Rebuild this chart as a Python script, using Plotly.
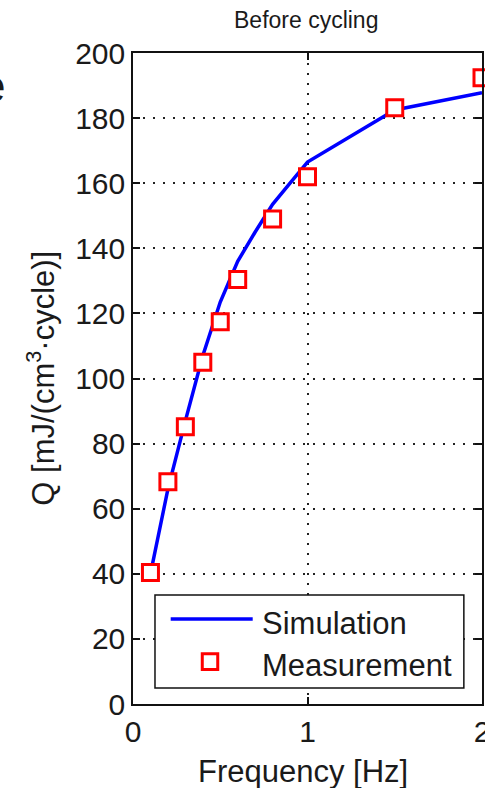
import plotly.graph_objects as go

# Measured heat per cycle vs. excitation frequency
meas_freq = [0.1, 0.2, 0.3, 0.4, 0.5, 0.6, 0.8, 1.0, 1.5, 2.0]
meas_q = [40.4, 68.3, 85.2, 105.0, 117.4, 130.4, 149.0, 162.0, 183.2, 192.4]

# Simulated curve
sim_freq = [0.1, 0.2, 0.3, 0.4, 0.5, 0.6, 0.7, 0.8, 0.9, 1.0, 1.5, 2.0]
sim_q = [40.0, 66.0, 87.0, 107.0, 123.5, 136.0, 145.0, 153.5, 160.0, 166.5, 182.5, 187.8]

sim_name = "Simulation"
meas_name = "Measurement"
title_text = "Before cycling"
x_title = "Frequency [Hz]"
y_title = "Q [mJ/(cm<sup>3</sup>·cycle)]"

x_ticks = [0, 1, 2]
y_ticks = list(range(0, 201, 20))

FONT = "Arial, Liberation Sans, Helvetica, sans-serif"
TXT = "#1a1a1a"
BLUE = "#0000ff"
RED = "#ff0000"

fig = go.Figure()
fig.add_trace(go.Scatter(
    x=sim_freq, y=sim_q, mode="lines", name=sim_name,
    line=dict(color=BLUE, width=3.5), cliponaxis=False, showlegend=False,
))
fig.add_trace(go.Scatter(
    x=meas_freq, y=meas_q, mode="markers", name=meas_name,
    marker=dict(symbol="square", size=16, color="white",
                line=dict(color=RED, width=3)),
    cliponaxis=False, showlegend=False,
))

axis_common = dict(
    showline=True, linecolor="#111", linewidth=1.5, mirror="ticks",
    ticks="inside", ticklen=7, tickwidth=1.5, tickcolor="#111",
    showgrid=True, gridcolor="#222", gridwidth=1.5, griddash="1.5px,8.5px",
    zeroline=False, ticklabeloverflow="allow", automargin=False,
    tickfont=dict(family=FONT, size=30, color=TXT),
)

fig.update_xaxes(range=[0, 2], tickvals=x_ticks, **axis_common)
fig.update_yaxes(range=[0, 200], tickvals=y_ticks, **axis_common)

# Legend drawn as a framed box inside the axes
legend_shapes = [
    dict(type="rect", xref="paper", yref="paper", x0=0.063, x1=0.948,
         y0=0.0246, y1=0.1674, line=dict(color="#111", width=1.5),
         fillcolor="white", layer="above"),
    dict(type="line", xref="paper", yref="paper", x0=0.108, x1=0.343,
         y0=0.1306, y1=0.1306, line=dict(color=BLUE, width=3.5), layer="above"),
    dict(type="rect", xref="paper", yref="paper", x0=0.1985, x1=0.2428,
         y0=0.0530, y1=0.0770, line=dict(color=RED, width=3),
         fillcolor="white", layer="above"),
]

annotations = [
    dict(text=sim_name, xref="paper", yref="paper", x=0.364, y=0.1244,
         xanchor="left", yanchor="middle", showarrow=False,
         font=dict(family=FONT, size=31, color=TXT)),
    dict(text=meas_name, xref="paper", yref="paper", x=0.364, y=0.0599,
         xanchor="left", yanchor="middle", showarrow=False,
         font=dict(family=FONT, size=31, color=TXT)),
    dict(text=title_text, xref="paper", yref="paper", x=0.495, y=1.05,
         xanchor="center", yanchor="middle", showarrow=False,
         font=dict(family=FONT, size=23, color=TXT)),
    dict(text=x_title, xref="paper", yref="paper", x=0.487, y=-0.1030,
         xanchor="center", yanchor="middle", showarrow=False,
         font=dict(family=FONT, size=31, color=TXT)),
    dict(text=y_title, xref="paper", yref="paper", x=-0.266, y=0.5,
         xanchor="center", yanchor="middle", textangle=-90, showarrow=False,
         font=dict(family=FONT, size=31, color=TXT)),
    dict(text="e", xref="paper", yref="paper", x=-0.358, y=0.949,
         xanchor="right", yanchor="middle", showarrow=False,
         font=dict(family=FONT, size=46, color=TXT)),
]

fig.update_layout(
    width=485, height=788,
    margin=dict(l=133, r=3, t=53, b=84, autoexpand=False),
    paper_bgcolor="white", plot_bgcolor="white",
    shapes=legend_shapes, annotations=annotations,
    showlegend=False,
)

fig.write_html("out.html")
